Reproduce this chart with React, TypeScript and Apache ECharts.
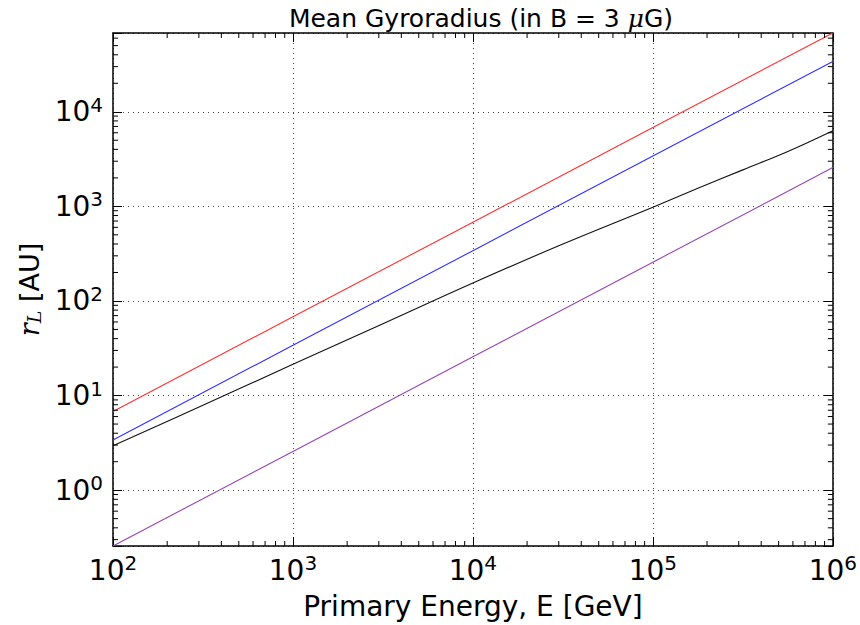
import React, { useEffect, useRef } from "react";
import * as echarts from "echarts";

// Primary energy (GeV) sample points
const energyDecades = [1e2, 1e3, 1e4, 1e5, 1e6];
const protonRadius = [6.8, 68, 680, 6800, 68000];
const heliumRadius = [3.4, 34, 340, 3400, 34000];
const ironRadius = [0.257, 2.57, 25.7, 257, 2570];

const meanEnergy = [100, 316, 1000, 3162, 10000, 31623, 100000, 177828, 316228, 562341, 1000000];
const meanRadius = [2.95, 7.9, 21.4, 57.5, 155, 400, 980, 1550, 2430, 3800, 6300];

const xMin = 1e2;
const xMax = 1e6;
const yMin = 0.257;
const yMax = 68000;

const titleText = "Mean Gyroradius (in B = 3 {mu|μ}G)";
const xTitle = "Primary Energy, E [GeV]";

// minor tick positions (2..9 times each power of ten)
const xMinorTicks: number[] = [];
for (let n = 2; n <= 5; n++) for (let k = 2; k <= 9; k++) xMinorTicks.push(k * Math.pow(10, n));
const yMinorTicks: number[] = [];
for (let n = -1; n <= 4; n++)
  for (let k = 2; k <= 9; k++) {
    const v = k * Math.pow(10, n);
    if (v > yMin && v < yMax) yMinorTicks.push(v);
  }

const FONT = "DejaVu Sans";

const pairs = (xs: number[], ys: number[]) => xs.map((x, i) => [x, ys[i]]);

const powLabel = (v: number) => {
  const l = Math.log10(v);
  const e = Math.round(l);
  if (Math.abs(l - e) > 1e-6) return "";
  return `{b|10}{s|${e}}`;
};

const labelRich = {
  b: { fontSize: 28, fontFamily: FONT, color: "#000", lineHeight: 34 },
  s: { fontSize: 20, fontFamily: FONT, color: "#000", verticalAlign: "top", lineHeight: 20 },
};

export default function App() {
  const ref = useRef<HTMLDivElement>(null);
  useEffect(() => {
    if (!ref.current) return;
    const chart = echarts.init(ref.current, null, { renderer: "svg" });
    const gridLine = { show: true, lineStyle: { color: "#444", type: [1, 4], width: 1 } };
    const option: any = {
      animation: false,
      backgroundColor: "#fff",
      title: {
        text: titleText,
        left: 476,
        top: 1,
        textAlign: "center",
        textStyle: {
          fontFamily: FONT,
          fontSize: 25,
          fontWeight: "normal",
          color: "#000",
          rich: { mu: { fontFamily: "DejaVu Serif", fontStyle: "italic", fontSize: 25, color: "#000" } },
        },
      },
      grid: { left: 113, right: 22, top: 33, bottom: 76, containLabel: false },
      xAxis: [
        {
          type: "log",
          logBase: 10,
          min: xMin,
          max: xMax,
          name: xTitle,
          nameLocation: "middle",
          nameGap: 46,
          nameTextStyle: { fontFamily: FONT, fontSize: 28, color: "#000" },
          axisLine: { show: true, lineStyle: { color: "#000", width: 1.5 } },
          axisTick: { show: true, inside: true, length: 9, lineStyle: { color: "#000", width: 1 } },
          axisLabel: { formatter: powLabel, rich: labelRich, margin: 7 },
          splitLine: gridLine,
        },
        {
          type: "log",
          logBase: 10,
          min: xMin,
          max: xMax,
          position: "top",
          axisLine: { show: true, lineStyle: { color: "#000", width: 1.5 } },
          axisTick: { show: true, inside: true, length: 9, lineStyle: { color: "#000", width: 1 } },
          axisLabel: { show: false },
          splitLine: { show: false },
        },
      ],
      yAxis: [
        {
          type: "log",
          logBase: 10,
          min: yMin,
          max: yMax,
          name: "{r|r}{l|L} [AU]",
          nameLocation: "middle",
          nameGap: 69,
          nameRotate: 90,
          nameTextStyle: {
            fontFamily: FONT,
            fontSize: 27,
            color: "#000",
            rich: {
              r: { fontFamily: "DejaVu Serif", fontStyle: "italic", fontSize: 27, color: "#000" },
              l: { fontFamily: "DejaVu Serif", fontStyle: "italic", fontSize: 19, color: "#000", verticalAlign: "bottom", padding: [10, 0, 0, 0] },
            },
          },
          axisLine: { show: true, lineStyle: { color: "#000", width: 1.5 } },
          axisTick: { show: true, inside: true, length: 9, lineStyle: { color: "#000", width: 1 } },
          axisLabel: { formatter: powLabel, rich: labelRich, margin: 10 },
          splitLine: gridLine,
        },
        {
          type: "log",
          logBase: 10,
          min: yMin,
          max: yMax,
          position: "right",
          axisLine: { show: true, lineStyle: { color: "#000", width: 1.5 } },
          axisTick: { show: true, inside: true, length: 9, lineStyle: { color: "#000", width: 1 } },
          axisLabel: { show: false },
          splitLine: { show: false },
        },
      ],
      series: [
        {
          type: "line",
          name: "proton",
          data: pairs(energyDecades, protonRadius),
          showSymbol: false,
          lineStyle: { color: "#ff3030", width: 1.1 },
          z: 3,
        },
        {
          type: "line",
          name: "helium",
          data: pairs(energyDecades, heliumRadius),
          showSymbol: false,
          lineStyle: { color: "#3030ff", width: 1.1 },
          z: 3,
        },
        {
          type: "line",
          name: "mean",
          data: pairs(meanEnergy, meanRadius),
          showSymbol: false,
          smooth: 0.4,
          lineStyle: { color: "#111", width: 1.1 },
          z: 3,
        },
        {
          type: "line",
          name: "iron",
          data: pairs(energyDecades, ironRadius),
          showSymbol: false,
          lineStyle: { color: "#9545b5", width: 1.1 },
          z: 3,
        },
        {
          type: "custom",
          name: "minorTicks",
          data: [[1000, 10]],
          clip: false,
          silent: true,
          z: 5,
          renderItem: (_params: any, api: any) => {
            const children: any[] = [];
            const st = { stroke: "#000", lineWidth: 1 };
            for (const x of xMinorTicks) {
              const b = api.coord([x, yMin]);
              const t = api.coord([x, yMax]);
              children.push({ type: "line", shape: { x1: b[0], y1: b[1], x2: b[0], y2: b[1] - 5 }, style: st });
              children.push({ type: "line", shape: { x1: t[0], y1: t[1], x2: t[0], y2: t[1] + 5 }, style: st });
            }
            for (const y of yMinorTicks) {
              const l = api.coord([xMin, y]);
              const r = api.coord([xMax, y]);
              children.push({ type: "line", shape: { x1: l[0], y1: l[1], x2: l[0] + 5, y2: l[1] }, style: st });
              children.push({ type: "line", shape: { x1: r[0], y1: r[1], x2: r[0] - 5, y2: r[1] }, style: st });
            }
            return { type: "group", children };
          },
        },
      ],
    };
    chart.setOption(option);
    return () => chart.dispose();
  }, []);
  return (
    <div
      ref={ref}
      style={{ position: "absolute", left: 0, top: 0, width: 860, height: 625 }}
    />
  );
}
